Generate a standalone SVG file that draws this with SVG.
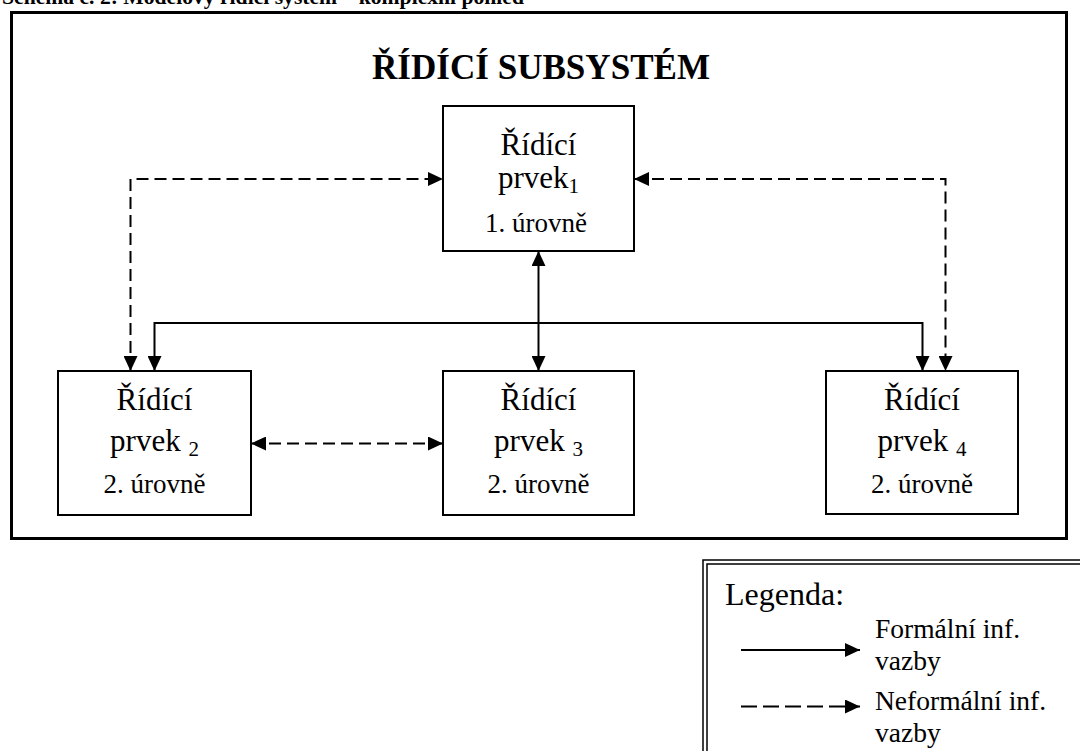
<svg xmlns="http://www.w3.org/2000/svg" width="1080" height="751" viewBox="0 0 1080 751">
  <style>
    text { font-family: "Liberation Serif", "Times New Roman", Tinos, "DejaVu Serif", serif; fill: #000; }
    .box { fill: #fff; stroke: #000; stroke-width: 2; }
    .lbl { font-size: 31px; text-anchor: middle; }
    .lvl { font-size: 27px; text-anchor: middle; }
    .sub { font-size: 21px; }
    .solid { fill: none; stroke: #000; stroke-width: 2; }
    .dash { fill: none; stroke: #000; stroke-width: 2; stroke-dasharray: 12 6; }
    .leg { font-size: 27.5px; }
  </style>
  <defs>
    <marker id="tri" markerUnits="userSpaceOnUse" markerWidth="15" markerHeight="14" refX="15" refY="7" orient="auto-start-reverse">
      <path d="M0,0 L15,7 L0,14 Z" fill="#000"/>
    </marker>
  </defs>

  <rect width="1080" height="751" fill="#fff"/>

  <!-- caption, clipped by the page top -->
  <text x="2" y="4" font-size="21" font-weight="bold" textLength="522" lengthAdjust="spacingAndGlyphs">Schéma č. 2: Modelový řídicí systém – komplexní pohled</text>

  <!-- outer frame of the subsystem -->
  <rect x="11.5" y="12.5" width="1055" height="526" fill="none" stroke="#000" stroke-width="3"/>
  <text x="372" y="79" font-size="35" font-weight="bold" textLength="338" lengthAdjust="spacingAndGlyphs">ŘÍDÍCÍ SUBSYSTÉM</text>

  <!-- connectors -->
  <g id="connectors">
    <path class="solid" d="M538.5,251 V371" marker-start="url(#tri)" marker-end="url(#tri)"/>
    <path class="solid" d="M154.5,371 V323 H922.5 V371" marker-start="url(#tri)" marker-end="url(#tri)"/>
    <path class="dash" d="M130.5,371 V179 H443" marker-start="url(#tri)" marker-end="url(#tri)"/>
    <path class="dash" d="M634,179 H945.5 V371" marker-start="url(#tri)" marker-end="url(#tri)"/>
    <path class="dash" d="M251,443.5 H443" marker-start="url(#tri)" marker-end="url(#tri)"/>
  </g>

  <!-- level 1 element -->
  <g id="prvek1">
    <rect class="box" x="443" y="106" width="191" height="145"/>
    <text class="lbl" x="538.5" y="155">Řídící</text>
    <text class="lbl" x="538.5" y="188">prvek<tspan class="sub" dy="5">1</tspan></text>
    <text class="lvl" x="536" y="232">1. úrovně</text>
  </g>

  <!-- level 2 elements -->
  <g id="prvek2">
    <rect class="box" x="58" y="371" width="193" height="144"/>
    <text class="lbl" x="154.5" y="410">Řídící</text>
    <text class="lbl" x="154.5" y="451">prvek <tspan class="sub" dy="5">2</tspan></text>
    <text class="lvl" x="154.5" y="493">2. úrovně</text>
  </g>

  <g id="prvek3">
    <rect class="box" x="443" y="371" width="191" height="144"/>
    <text class="lbl" x="538.5" y="410">Řídící</text>
    <text class="lbl" x="538.5" y="451">prvek <tspan class="sub" dy="5">3</tspan></text>
    <text class="lvl" x="538.5" y="493">2. úrovně</text>
  </g>

  <g id="prvek4">
    <rect class="box" x="826" y="371" width="192" height="143"/>
    <text class="lbl" x="922" y="410">Řídící</text>
    <text class="lbl" x="922" y="451">prvek <tspan class="sub" dy="5">4</tspan></text>
    <text class="lvl" x="922" y="493">2. úrovně</text>
  </g>

  <!-- legend -->
  <g id="legend">
    <rect x="703" y="560" width="420" height="240" fill="#fff" stroke="#000" stroke-width="1.5"/>
    <rect x="707" y="564" width="420" height="240" fill="none" stroke="#000" stroke-width="1.5"/>
    <text x="725" y="605" font-size="32">Legenda:</text>
    <path class="solid" d="M741,650 H860" marker-end="url(#tri)"/>
    <text class="leg" x="875" y="638">Formální inf.</text>
    <text class="leg" x="875" y="670">vazby</text>
    <path class="solid" d="M741,706.5 H860" stroke-dasharray="16 6" marker-end="url(#tri)"/>
    <text class="leg" x="875" y="710">Neformální inf.</text>
    <text class="leg" x="875" y="742">vazby</text>
  </g>
</svg>
